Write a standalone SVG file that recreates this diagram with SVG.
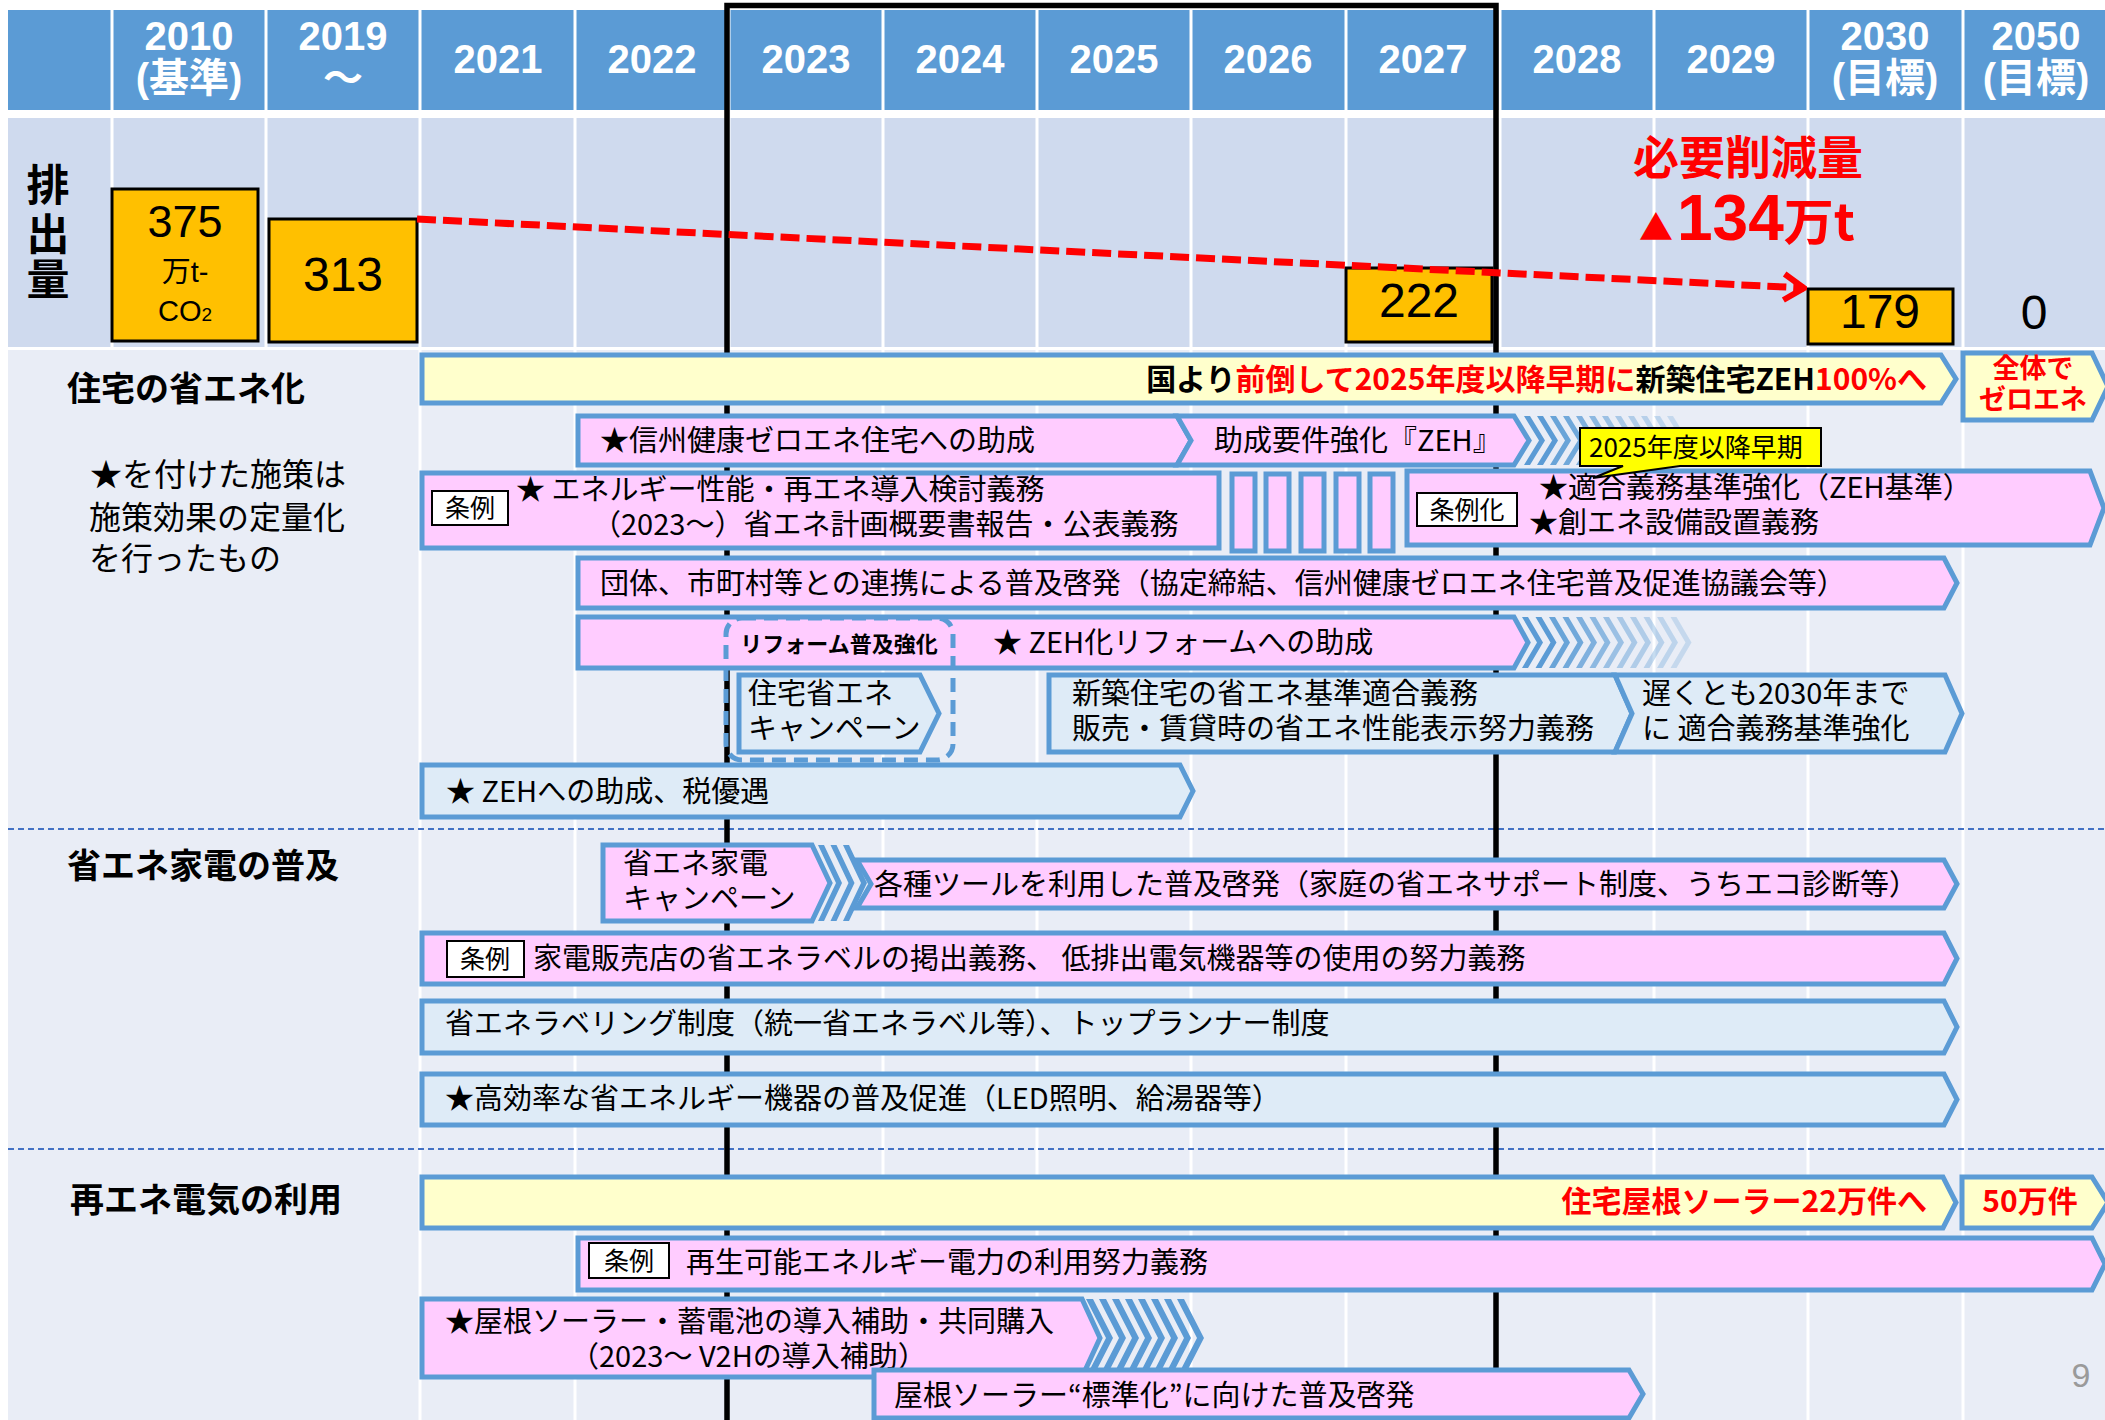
<svg xmlns="http://www.w3.org/2000/svg" width="2105" height="1420" viewBox="0 0 2105 1420">
<defs>
<style>
.hd{font-family:"Liberation Sans","Noto Sans CJK JP",sans-serif;font-weight:bold;font-size:40px;fill:#fff;text-anchor:middle}
.grid{stroke:#fff;stroke-width:3;fill:none}
.em{fill:#FFC000;stroke:#000;stroke-width:3}
.emt{font-family:"Liberation Sans","Noto Sans CJK JP",sans-serif;font-size:48px;fill:#000;text-anchor:middle}
.pk{fill:#FFCCFF;stroke:#5B9BD5;stroke-width:5}
.lb{fill:#DEEBF7;stroke:#5B9BD5;stroke-width:5}
.yl{fill:#FFFFCC;stroke:#5B9BD5;stroke-width:5}
.t{font-family:"Noto Sans CJK JP",sans-serif;font-size:29px;fill:#000}
.b{font-weight:bold}
.jo{fill:#fff;stroke:#000;stroke-width:2}
.jt{font-family:"Noto Sans CJK JP",sans-serif;font-size:25px;fill:#000;text-anchor:middle}
.sec{font-family:"Noto Sans CJK JP",sans-serif;font-size:34px;font-weight:bold;fill:#000}
.note{font-family:"Noto Sans CJK JP",sans-serif;font-size:32px;fill:#000}
.chv{fill:#5B9BD5}
.sep{stroke:#4472C4;stroke-width:2;stroke-dasharray:6 4;fill:none}
.r{fill:#FF0000}
</style>
<marker id="ah" markerUnits="userSpaceOnUse" viewBox="0 0 26 32" refX="23" refY="16" markerWidth="26" markerHeight="32" orient="auto">
<path d="M3,3 L23,16 L3,29" fill="none" stroke="#FF0000" stroke-width="6"/>
</marker>
</defs>

<g id="background">
<rect x="0" y="0" width="2105" height="1420" fill="#fff"/>
<rect x="8" y="10" width="2097" height="100" fill="#5B9BD5"/>
<rect x="8" y="118" width="2097" height="229" fill="#CFDAEE"/>
<rect x="8" y="350" width="2097" height="1070" fill="#E9EDF6"/>
<path class="grid" d="M112,10V110M266,10V110M420,10V110M575,10V110M729,10V110M883,10V110M1037,10V110M1191,10V110M1346,10V110M1500,10V110M1654,10V110M1808,10V110M1963,10V110"/>
<path class="grid" d="M112,118V347M266,118V347M420,118V347M575,118V347M729,118V347M883,118V347M1037,118V347M1191,118V347M1346,118V347M1500,118V347M1654,118V347M1808,118V347M1963,118V347"/>
<path class="grid" d="M420,350V1420M575,350V1420M883,350V1420M1037,350V1420M1191,350V1420M1346,350V1420M1654,350V1420M1808,350V1420M1963,350V1420"/>
<path class="sep" d="M8,829H2105M8,1149H2105"/>
</g>

<g id="header">
<text class="hd" x="189" y="50">2010</text><text class="hd" x="189" y="92">(基準)</text>
<text class="hd" x="343" y="50">2019</text><text class="hd" x="343" y="92">～</text>
<text class="hd" x="498" y="73">2021</text>
<text class="hd" x="652" y="73">2022</text>
<text class="hd" x="806" y="73">2023</text>
<text class="hd" x="960" y="73">2024</text>
<text class="hd" x="1114" y="73">2025</text>
<text class="hd" x="1268" y="73">2026</text>
<text class="hd" x="1423" y="73">2027</text>
<text class="hd" x="1577" y="73">2028</text>
<text class="hd" x="1731" y="73">2029</text>
<text class="hd" x="1885" y="50">2030</text><text class="hd" x="1885" y="92">(目標)</text>
<text class="hd" x="2036" y="50">2050</text><text class="hd" x="2036" y="92">(目標)</text>
</g>

<g id="frame">
<path d="M727,1420V5.5H1496V1420" fill="none" stroke="#000" stroke-width="5.5"/>
</g>

<g id="emissions">
<text class="sec" x="48" y="201" text-anchor="middle" style="font-size:43px">排</text>
<text class="sec" x="48" y="250" text-anchor="middle" style="font-size:43px">出</text>
<text class="sec" x="48" y="295" text-anchor="middle" style="font-size:43px">量</text>
<g id="e2010"><rect class="em" x="112" y="189" width="146" height="152"/>
<text class="emt" x="185" y="237" style="font-size:45px">375</text>
<text class="emt" x="185" y="282" style="font-size:29px">万t-</text>
<text class="emt" x="185" y="321" style="font-size:29px">CO<tspan style="font-size:19px">2</tspan></text></g>
<g id="e2019"><rect class="em" x="269" y="219" width="148" height="123"/><text class="emt" x="343" y="291">313</text></g>
<g id="e2027"><rect class="em" x="1346" y="268" width="146" height="74"/><text class="emt" x="1419" y="317">222</text></g>
<g id="e2030"><rect class="em" x="1808" y="289" width="145" height="55"/><text class="emt" x="1880" y="328">179</text></g>
<text class="emt" x="2034" y="329">0</text>
<text class="sec r" x="1748" y="174" text-anchor="middle" style="font-size:46px">必要削減量</text>
<text class="sec r" x="1639" y="240"><tspan style="font-size:34px">▲</tspan><tspan style="font-family:'Liberation Sans',sans-serif;font-size:64px" dx="4">134</tspan><tspan style="font-size:50px">万t</tspan></text>
</g>

<g id="connectors">
<path d="M417,219 L1804,288" fill="none" stroke="#FF0000" stroke-width="7" stroke-dasharray="19 7" marker-end="url(#ah)"/>
</g>

<g id="sec1">
<text class="sec" x="67" y="401">住宅の省エネ化</text>
<text class="note" x="90" y="486">★を付けた施策は</text>
<text class="note" x="89" y="529">施策効果の定量化</text>
<text class="note" x="89" y="570">を行ったもの</text>

<g id="zeh100">
<path class="yl" d="M422,355H1941L1956,379L1941,403H422Z"/>
<text class="t b" x="1927" y="390" text-anchor="end" style="font-size:30px">国より<tspan class="r">前倒して2025年度以降早期に</tspan>新築住宅ZEH<tspan class="r">100%へ</tspan></text>
</g>
<g id="zeroene">
<path class="yl" d="M1963,353H2092L2108,386.5L2092,420H1963Z"/>
<text class="t b r" x="2033" y="378" text-anchor="middle" style="font-size:27px">全体で</text>
<text class="t b r" x="2033" y="409" text-anchor="middle" style="font-size:27px">ゼロエネ</text>
</g>
<g id="josei">
<path class="pk" d="M578,416H1177L1191,440.5L1177,465H578Z"/>
<text class="t" x="600" y="451">★信州健康ゼロエネ住宅への助成</text>
</g>
<g id="josei2">
<path class="pk" d="M1177,416H1514L1529,440.5L1514,465H1177L1191,440.5Z"/>
<text class="t" x="1214" y="451">助成要件強化『ZEH』</text>
<path class="chv" d="M1524,416h6l15,24.5l-15,24.5h-6l15,-24.5z"/>
<path class="chv" d="M1537,416h6l15,24.5l-15,24.5h-6l15,-24.5z"/>
<path class="chv" opacity="0.9" d="M1550,416h6l15,24.5l-15,24.5h-6l15,-24.5z"/>
<path class="chv" opacity="0.85" d="M1563,416h6l15,24.5l-15,24.5h-6l15,-24.5z"/>
<path class="chv" opacity="0.75" d="M1576,416h6l15,24.5l-15,24.5h-6l15,-24.5z"/>
<path class="chv" opacity="0.65" d="M1589,416h6l15,24.5l-15,24.5h-6l15,-24.5z"/>
<path class="chv" opacity="0.55" d="M1602,416h6l15,24.5l-15,24.5h-6l15,-24.5z"/>
<path class="chv" opacity="0.45" d="M1615,416h6l15,24.5l-15,24.5h-6l15,-24.5z"/>
<path class="chv" opacity="0.4" d="M1628,416h6l15,24.5l-15,24.5h-6l15,-24.5z"/>
<path class="chv" opacity="0.35" d="M1641,416h6l15,24.5l-15,24.5h-6l15,-24.5z"/>
<path class="chv" opacity="0.3" d="M1654,416h6l15,24.5l-15,24.5h-6l15,-24.5z"/>
<path class="chv" opacity="0.25" d="M1667,416h6l15,24.5l-15,24.5h-6l15,-24.5z"/>
</g>
<g id="kento">
<rect class="pk" x="422" y="473" width="797" height="75"/>
<rect class="jo" x="432" y="491" width="76" height="34"/>
<text class="jt" x="470" y="517">条例</text>
<text class="t" x="516" y="500">★ エネルギー性能・再エネ導入検討義務</text>
<text class="t" x="592" y="535">（2023～）省エネ計画概要書報告・公表義務</text>
</g>
<g id="gap-bars">
<rect class="pk" x="1232" y="474" width="23" height="77"/>
<rect class="pk" x="1266" y="474" width="23" height="77"/>
<rect class="pk" x="1301" y="474" width="23" height="77"/>
<rect class="pk" x="1336" y="474" width="23" height="77"/>
<rect class="pk" x="1370" y="474" width="23" height="77"/>
</g>
<g id="jorei-ka">
<path class="pk" d="M1407,471H2090L2104,508L2090,545H1407Z"/>
<rect class="jo" x="1417" y="493" width="100" height="33"/>
<text class="jt" x="1467" y="519">条例化</text>
<text class="t" x="1539" y="498">★適合義務基準強化（ZEH基準）</text>
<text class="t" x="1529" y="533">★創エネ設備設置義務</text>
</g>
<g id="callout">
<path d="M1580,428H1821V466H1680L1593,478L1623,466H1580Z" fill="#FFFF00" stroke="#000" stroke-width="2"/>
<text class="t" x="1589" y="457" style="font-size:26px">2025年度以降早期</text>
</g>
<g id="renkei">
<path class="pk" d="M578,558H1944L1957,583L1944,608H578Z"/>
<text class="t" x="600" y="594">団体、市町村等との連携による普及啓発（協定締結、信州健康ゼロエネ住宅普及促進協議会等）</text>
</g>
<g id="reform">
<path class="pk" d="M578,617H1514L1528,642.5L1514,668H578Z"/>
<text class="t" x="993" y="653">★ ZEH化リフォームへの助成</text>
<path class="chv" d="M1522,617h6l15,25.5l-15,25.5h-6l15,-25.5z"/>
<path class="chv" d="M1535.5,617h6l15,25.5l-15,25.5h-6l15,-25.5z"/>
<path class="chv" opacity="0.9" d="M1549,617h6l15,25.5l-15,25.5h-6l15,-25.5z"/>
<path class="chv" opacity="0.85" d="M1562.5,617h6l15,25.5l-15,25.5h-6l15,-25.5z"/>
<path class="chv" opacity="0.75" d="M1576,617h6l15,25.5l-15,25.5h-6l15,-25.5z"/>
<path class="chv" opacity="0.65" d="M1589.5,617h6l15,25.5l-15,25.5h-6l15,-25.5z"/>
<path class="chv" opacity="0.55" d="M1603,617h6l15,25.5l-15,25.5h-6l15,-25.5z"/>
<path class="chv" opacity="0.45" d="M1616.5,617h6l15,25.5l-15,25.5h-6l15,-25.5z"/>
<path class="chv" opacity="0.4" d="M1630,617h6l15,25.5l-15,25.5h-6l15,-25.5z"/>
<path class="chv" opacity="0.35" d="M1643.5,617h6l15,25.5l-15,25.5h-6l15,-25.5z"/>
<path class="chv" opacity="0.3" d="M1657,617h6l15,25.5l-15,25.5h-6l15,-25.5z"/>
<path class="chv" opacity="0.25" d="M1670.5,617h6l15,25.5l-15,25.5h-6l15,-25.5z"/>
</g>
<g id="campaign">
<path class="lb" d="M739,675H920L939,713.5L920,752H739Z"/>
<text class="t" x="748" y="704">住宅省エネ</text>
<text class="t" x="748" y="739">キャンペーン</text>
</g>
<g id="reform-box">
<rect x="726" y="618" width="227" height="142" rx="16" fill="none" stroke="#5B9BD5" stroke-width="5" stroke-dasharray="14 8"/>
<text class="t b" x="839" y="652" text-anchor="middle" style="font-size:22px">リフォーム普及強化</text>
</g>
<g id="tekigo">
<path class="lb" d="M1049,675H1615L1632,713.5L1615,752H1049Z"/>
<text class="t" x="1072" y="704">新築住宅の省エネ基準適合義務</text>
<text class="t" x="1072" y="739">販売・賃貸時の省エネ性能表示努力義務</text>
</g>
<g id="tekigo2030">
<path class="lb" d="M1615,675H1945L1962,713.5L1945,752H1615L1632,713.5Z"/>
<text class="t" x="1642" y="704">遅くとも2030年まで</text>
<text class="t" x="1642" y="739">に 適合義務基準強化</text>
</g>
<g id="zeh-josei">
<path class="lb" d="M422,765H1180L1193,791L1180,817H422Z"/>
<text class="t" x="446" y="802">★ ZEHへの助成、税優遇</text>
</g>
</g>

<g id="sec2">
<text class="sec" x="67" y="878">省エネ家電の普及</text>
<g id="kaden-camp">
<path class="pk" d="M603,845H812L830,883L812,921H603Z"/>
<text class="t" x="623" y="874">省エネ家電</text>
<text class="t" x="623" y="909">キャンペーン</text>
</g>
<g id="tools">
<path class="pk" d="M857,860H1944L1957,884L1944,908H857L871,884Z"/>
<text class="t" x="874" y="895">各種ツールを利用した普及啓発（家庭の省エネサポート制度、うちエコ診断等）</text>
<path class="chv" d="M818,845h6l18,38l-18,38h-6l18,-38z"/>
<path class="chv" d="M830.5,845h6l18,38l-18,38h-6l18,-38z"/>
<path class="chv" d="M843,845h6l18,38l-18,38h-6l18,-38z"/>
</g>
<g id="label-duty">
<path class="pk" d="M422,933H1944L1957,958.5L1944,984H422Z"/>
<rect class="jo" x="447" y="941" width="77" height="36"/>
<text class="jt" x="485" y="968">条例</text>
<text class="t" x="533" y="969">家電販売店の省エネラベルの掲出義務、 低排出電気機器等の使用の努力義務</text>
</g>
<g id="labeling">
<path class="lb" d="M422,1001H1944L1957,1027L1944,1053H422Z"/>
<text class="t" x="445" y="1034">省エネラベリング制度（統一省エネラベル等）、トップランナー制度</text>
</g>
<g id="higheff">
<path class="lb" d="M422,1074H1944L1957,1099.5L1944,1125H422Z"/>
<text class="t" x="445" y="1109">★高効率な省エネルギー機器の普及促進（LED照明、給湯器等）</text>
</g>
</g>

<g id="sec3">
<text class="sec" x="70" y="1212">再エネ電気の利用</text>
<g id="solar22">
<path class="yl" d="M422,1177H1943L1956,1202.5L1943,1228H422Z"/>
<text class="t b r" x="1927" y="1212" text-anchor="end" style="font-size:30px">住宅屋根ソーラー22万件へ</text>
</g>
<g id="solar50">
<path class="yl" d="M1962,1177H2092L2108,1202.5L2092,1228H1962Z"/>
<text class="t b r" x="2030" y="1212" text-anchor="middle" style="font-size:30px">50万件</text>
</g>
<g id="re-duty">
<path class="pk" d="M578,1238H2092L2105,1264L2092,1290H578Z"/>
<rect class="jo" x="589" y="1243" width="80" height="35"/>
<text class="jt" x="629" y="1270">条例</text>
<text class="t" x="686" y="1273">再生可能エネルギー電力の利用努力義務</text>
</g>
<g id="solar-subsidy">
<path class="pk" d="M422,1299H1082L1100,1338L1082,1377H422Z"/>
<text class="t" x="445" y="1332">★屋根ソーラー・蓄電池の導入補助・共同購入</text>
<text class="t" x="570" y="1367">（2023～ V2Hの導入補助）</text>
<path class="chv" d="M1086,1299h7l20,39l-20,39h-7l20,-39z"/>
<path class="chv" d="M1099,1299h7l20,39l-20,39h-7l20,-39z"/>
<path class="chv" d="M1112,1299h7l20,39l-20,39h-7l20,-39z"/>
<path class="chv" d="M1125,1299h7l20,39l-20,39h-7l20,-39z"/>
<path class="chv" d="M1138,1299h7l20,39l-20,39h-7l20,-39z"/>
<path class="chv" d="M1151,1299h7l20,39l-20,39h-7l20,-39z"/>
<path class="chv" d="M1164,1299h7l20,39l-20,39h-7l20,-39z"/>
<path class="chv" d="M1177,1299h7l20,39l-20,39h-7l20,-39z"/>
</g>
<g id="standard">
<path class="pk" d="M874,1370H1629L1643,1394L1629,1418H874Z"/>
<text class="t" x="894" y="1406">屋根ソーラー“標準化”に向けた普及啓発</text>
</g>
</g>

<text x="2081" y="1387" font-family="Liberation Sans, sans-serif" font-size="34" fill="#9A9A9A" text-anchor="middle">9</text>
</svg>
